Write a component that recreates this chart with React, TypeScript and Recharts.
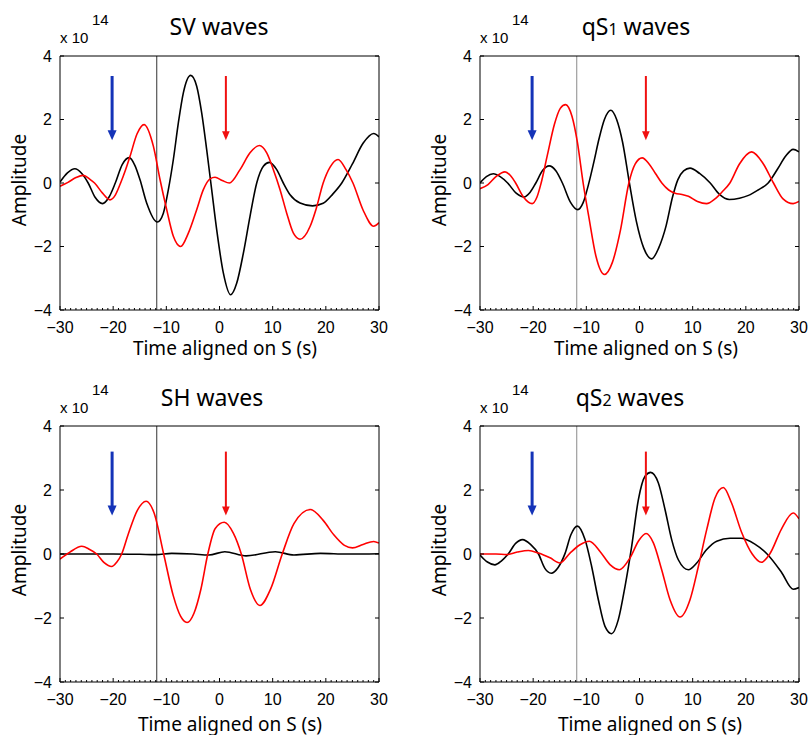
import React from 'react';
import { LineChart, Line, XAxis, YAxis, ReferenceLine, ReferenceDot } from 'recharts';

type Sample = { t: number; a: number };

// Time axis in seconds relative to the S arrival, amplitude in units of 1e14
const timeDomain: [number, number] = [-30, 30];
const timeMinorTicks = Array.from({ length: 61 }, (_, i) => i - 30);
const ampDomain: [number, number] = [-4, 4];
const ampTicks = [-4, -2, 0, 2, 4];

const sAlignTime = -11.8;
const blueArrowTime = -20.2;
const redArrowTime = 1.2;

// SV waves
const svBlack: Sample[] = [
  { t: -30, a: 0.03 }, { t: -28.6, a: 0.32 }, { t: -27.2, a: 0.45 }, { t: -25.9, a: 0.3 },
  { t: -24.7, a: 0 }, { t: -23.4, a: -0.45 }, { t: -22.0, a: -0.65 }, { t: -20.8, a: -0.45 },
  { t: -19.6, a: 0 }, { t: -18.3, a: 0.58 }, { t: -17.0, a: 0.8 }, { t: -15.9, a: 0.55 },
  { t: -14.95, a: 0.1 }, { t: -13.7, a: -0.63 }, { t: -11.7, a: -1.23 }, { t: -10.56, a: -0.95 },
  { t: -9.62, a: -0.21 }, { t: -8.68, a: 0.74 }, { t: -7.74, a: 1.89 }, { t: -6.8, a: 2.84 },
  { t: -5.42, a: 3.39 }, { t: -4.29, a: 3.05 }, { t: -3.35, a: 2.21 }, { t: -2.41, a: 1.05 },
  { t: -1.47, a: -0.21 }, { t: -0.53, a: -1.47 }, { t: 0.73, a: -2.84 }, { t: 2.1, a: -3.52 },
  { t: 3.23, a: -3.16 }, { t: 4.49, a: -2.21 }, { t: 5.74, a: -1.05 }, { t: 7.0, a: 0.0 },
  { t: 8.25, a: 0.53 }, { t: 9.38, a: 0.65 }, { t: 10.76, a: 0.42 }, { t: 12.0, a: 0.0 },
  { t: 13.27, a: -0.37 }, { t: 15.15, a: -0.63 }, { t: 17.5, a: -0.72 }, { t: 19.5, a: -0.64 },
  { t: 21.3, a: -0.35 }, { t: 23.0, a: 0 }, { t: 25.0, a: 0.6 }, { t: 27.0, a: 1.25 },
  { t: 29.0, a: 1.56 }, { t: 30, a: 1.45 },
];
const svRed: Sample[] = [
  { t: -30, a: -0.1 }, { t: -28.5, a: 0.02 }, { t: -27.0, a: 0.17 }, { t: -25.6, a: 0.24 },
  { t: -24.4, a: 0.12 }, { t: -23.5, a: 0 }, { t: -22.0, a: -0.32 }, { t: -20.6, a: -0.53 },
  { t: -19.6, a: -0.38 }, { t: -18.6, a: 0 }, { t: -17.7, a: 0.4 }, { t: -16.83, a: 0.84 },
  { t: -15.5, a: 1.55 }, { t: -14.2, a: 1.84 }, { t: -12.44, a: 1.16 }, { t: -11.19, a: 0.11 },
  { t: -9.93, a: -0.84 }, { t: -8.68, a: -1.68 }, { t: -7.3, a: -2.0 }, { t: -5.86, a: -1.58 },
  { t: -4.29, a: -0.84 }, { t: -3.04, a: -0.21 }, { t: -1.78, a: 0.13 }, { t: -0.84, a: 0.18 },
  { t: 0.5, a: 0.08 }, { t: 1.85, a: 0.0 }, { t: 3.86, a: 0.42 }, { t: 5.74, a: 0.95 },
  { t: 7.5, a: 1.18 }, { t: 8.88, a: 0.95 }, { t: 10.13, a: 0.42 }, { t: 11.39, a: -0.21 },
  { t: 12.64, a: -0.95 }, { t: 13.9, a: -1.58 }, { t: 15.15, a: -1.77 }, { t: 17.03, a: -1.37 },
  { t: 18.2, a: -0.8 }, { t: 19.5, a: 0 }, { t: 20.8, a: 0.5 }, { t: 22.3, a: 0.74 },
  { t: 23.8, a: 0.42 }, { t: 25.1, a: 0 }, { t: 27.0, a: -0.85 }, { t: 29.0, a: -1.36 },
  { t: 30, a: -1.25 },
];

// qS1 waves
const qs1Black: Sample[] = [
  { t: -30, a: 0 }, { t: -28.8, a: 0.2 }, { t: -27.5, a: 0.29 }, { t: -26.2, a: 0.2 },
  { t: -24.8, a: 0 }, { t: -23.2, a: -0.32 }, { t: -21.7, a: -0.44 }, { t: -20.6, a: -0.3 },
  { t: -19.5, a: 0 }, { t: -18.2, a: 0.4 }, { t: -17.0, a: 0.54 }, { t: -15.7, a: 0.38 },
  { t: -14.5, a: 0 }, { t: -13.0, a: -0.6 }, { t: -11.6, a: -0.84 }, { t: -10.6, a: -0.62 },
  { t: -9.6, a: -0.05 }, { t: -8.6, a: 0.65 }, { t: -7.6, a: 1.4 }, { t: -6.6, a: 2.0 },
  { t: -5.4, a: 2.29 }, { t: -4.3, a: 2.0 }, { t: -3.2, a: 1.3 }, { t: -1.9, a: 0 },
  { t: -0.6, a: -1.2 }, { t: 0.8, a: -2.05 }, { t: 2.3, a: -2.39 }, { t: 3.6, a: -2.05 },
  { t: 5.0, a: -1.35 }, { t: 6.2, a: -0.45 }, { t: 7.2, a: 0.1 }, { t: 8.3, a: 0.38 },
  { t: 9.5, a: 0.47 }, { t: 11.3, a: 0.3 }, { t: 13.3, a: 0 }, { t: 15.0, a: -0.35 },
  { t: 16.9, a: -0.52 }, { t: 18.8, a: -0.48 }, { t: 20.5, a: -0.39 }, { t: 22.3, a: -0.22 },
  { t: 24.2, a: 0 }, { t: 26.0, a: 0.45 }, { t: 27.5, a: 0.85 }, { t: 28.9, a: 1.06 },
  { t: 30, a: 0.98 },
];
const qs1Red: Sample[] = [
  { t: -30, a: -0.18 }, { t: -28.5, a: -0.05 }, { t: -27.0, a: 0.2 }, { t: -25.3, a: 0.35 },
  { t: -24.2, a: 0.22 }, { t: -23.3, a: 0 }, { t: -21.8, a: -0.45 }, { t: -20.2, a: -0.65 },
  { t: -19.3, a: -0.45 }, { t: -18.5, a: 0 }, { t: -17.3, a: 0.9 }, { t: -16.0, a: 1.85 },
  { t: -14.9, a: 2.35 }, { t: -13.9, a: 2.47 }, { t: -12.7, a: 2.1 }, { t: -11.7, a: 1.3 },
  { t: -10.6, a: 0 }, { t: -9.5, a: -1.1 }, { t: -8.2, a: -2.3 }, { t: -6.6, a: -2.88 },
  { t: -5.1, a: -2.5 }, { t: -3.6, a: -1.5 }, { t: -2.0, a: 0 }, { t: -0.8, a: 0.6 },
  { t: 0.5, a: 0.79 }, { t: 1.8, a: 0.6 }, { t: 3.0, a: 0.3 }, { t: 4.2, a: 0 },
  { t: 5.5, a: -0.22 }, { t: 6.7, a: -0.32 }, { t: 8.0, a: -0.36 }, { t: 9.2, a: -0.42 },
  { t: 10.9, a: -0.58 }, { t: 12.6, a: -0.65 }, { t: 14.2, a: -0.5 }, { t: 15.6, a: -0.27 },
  { t: 17.0, a: 0 }, { t: 18.8, a: 0.6 }, { t: 21.1, a: 0.98 }, { t: 23.3, a: 0.6 },
  { t: 25.2, a: 0 }, { t: 27.0, a: -0.5 }, { t: 28.9, a: -0.65 }, { t: 30, a: -0.58 },
];

// SH waves
const shBlack: Sample[] = [
  { t: -30, a: 0 }, { t: -20, a: 0 }, { t: -15, a: -0.01 }, { t: -12, a: -0.02 },
  { t: -9, a: 0.02 }, { t: -5, a: 0.0 }, { t: -2, a: -0.03 }, { t: 1, a: 0.07 },
  { t: 5, a: -0.06 }, { t: 10.5, a: 0.07 }, { t: 14, a: -0.03 }, { t: 19, a: 0.02 },
  { t: 24, a: 0.0 }, { t: 30, a: 0.01 },
];
const shRed: Sample[] = [
  { t: -30, a: -0.16 }, { t: -28.2, a: 0.05 }, { t: -25.9, a: 0.24 }, { t: -24.5, a: 0.15 },
  { t: -23.1, a: 0 }, { t: -21.7, a: -0.27 }, { t: -20.3, a: -0.39 }, { t: -19.3, a: -0.25 },
  { t: -18.4, a: 0 }, { t: -17.2, a: 0.6 }, { t: -15.5, a: 1.35 }, { t: -13.8, a: 1.65 },
  { t: -12.3, a: 1.28 }, { t: -10.5, a: 0 }, { t: -8.7, a: -1.3 }, { t: -7.3, a: -1.95 },
  { t: -6.1, a: -2.14 }, { t: -4.8, a: -1.85 }, { t: -3.5, a: -1.1 }, { t: -2.2, a: 0 },
  { t: -0.8, a: 0.8 }, { t: 0.9, a: 0.99 }, { t: 2.6, a: 0.65 }, { t: 4.1, a: 0 },
  { t: 5.8, a: -1.1 }, { t: 7.6, a: -1.61 }, { t: 9.6, a: -1.1 }, { t: 11.8, a: 0 },
  { t: 14.0, a: 0.95 }, { t: 17.1, a: 1.39 }, { t: 19.5, a: 1.05 }, { t: 21.5, a: 0.6 },
  { t: 23.5, a: 0.27 }, { t: 25.0, a: 0.19 }, { t: 27.0, a: 0.3 }, { t: 29.0, a: 0.39 },
  { t: 30, a: 0.34 },
];

// qS2 waves
const qs2Black: Sample[] = [
  { t: -30, a: -0.03 }, { t: -28.6, a: -0.25 }, { t: -27.2, a: -0.34 }, { t: -26.0, a: -0.22 },
  { t: -24.7, a: 0 }, { t: -23.3, a: 0.33 }, { t: -22.0, a: 0.45 }, { t: -20.5, a: 0.3 },
  { t: -19.0, a: 0 }, { t: -17.8, a: -0.45 }, { t: -16.6, a: -0.6 }, { t: -15.3, a: -0.42 },
  { t: -14.0, a: 0.02 }, { t: -12.9, a: 0.6 }, { t: -11.69, a: 0.87 }, { t: -10.25, a: 0.45 },
  { t: -9.0, a: -0.39 }, { t: -7.74, a: -1.43 }, { t: -6.49, a: -2.26 }, { t: -5.23, a: -2.49 },
  { t: -3.98, a: -2.05 }, { t: -2.72, a: -1.01 }, { t: -1.47, a: 0.24 }, { t: -0.21, a: 1.7 },
  { t: 1.04, a: 2.43 }, { t: 2.1, a: 2.55 }, { t: 3.55, a: 2.22 }, { t: 4.8, a: 1.39 },
  { t: 6.05, a: 0.45 }, { t: 7.3, a: -0.18 }, { t: 9.19, a: -0.49 }, { t: 10.76, a: -0.28 },
  { t: 12.64, a: 0.14 }, { t: 14.52, a: 0.4 }, { t: 17.03, a: 0.49 }, { t: 19.0, a: 0.49 },
  { t: 21.7, a: 0.31 }, { t: 24.0, a: 0 }, { t: 26.7, a: -0.57 }, { t: 28.9, a: -1.1 },
  { t: 30, a: -1.05 },
];
const qs2Red: Sample[] = [
  { t: -30, a: 0.0 }, { t: -27, a: 0.0 }, { t: -25, a: -0.02 }, { t: -23.0, a: 0.06 },
  { t: -20.9, a: 0.11 }, { t: -19.0, a: 0.03 }, { t: -16.83, a: -0.12 }, { t: -14.95, a: -0.28 },
  { t: -13.07, a: 0.03 }, { t: -11.19, a: 0.29 }, { t: -9.43, a: 0.4 }, { t: -7.43, a: 0.08 },
  { t: -5.55, a: -0.33 }, { t: -3.79, a: -0.49 }, { t: -1.78, a: -0.12 }, { t: -0.21, a: 0.4 },
  { t: 1.23, a: 0.64 }, { t: 2.61, a: 0.35 }, { t: 4.17, a: -0.49 }, { t: 5.74, a: -1.43 },
  { t: 7.62, a: -1.97 }, { t: 9.5, a: -1.43 }, { t: 11.07, a: -0.39 }, { t: 12.64, a: 0.76 },
  { t: 14.2, a: 1.75 }, { t: 15.77, a: 2.08 }, { t: 17.3, a: 1.6 }, { t: 19.2, a: 0.68 },
  { t: 21.2, a: 0 }, { t: 22.9, a: -0.26 }, { t: 24.5, a: 0 }, { t: 26.7, a: 0.78 },
  { t: 28.9, a: 1.28 }, { t: 30, a: 1.1 },
];

const TICK_FONT = '"Liberation Sans", Arial, sans-serif';
const LABEL_FONT = '"Noto Sans", "Open Sans", sans-serif';

const fmt = (v: number) => (v < 0 ? `\u2212${-v}` : `${v}`);

const BottomTick = (props: any) => {
  const { x, y, payload } = props;
  const v = payload.value as number;
  const major = v % 10 === 0;
  return (
    <g>
      <line x1={x} x2={x} y1={y} y2={y - (major ? 4 : 2)} stroke="#000" strokeWidth={1} />
      {major && (
        <text x={x} y={y + 23} textAnchor="middle" fontSize={16} fontFamily={TICK_FONT} fill="#000">
          {fmt(v)}
        </text>
      )}
    </g>
  );
};

const TopTick = (props: any) => {
  const { x, y, payload } = props;
  const major = (payload.value as number) % 10 === 0;
  return <line x1={x} x2={x} y1={y} y2={y + (major ? 4 : 2)} stroke="#000" strokeWidth={1} />;
};

const LeftTick = (props: any) => {
  const { x, y, payload } = props;
  return (
    <g>
      <line x1={x} x2={x + 4} y1={y} y2={y} stroke="#000" strokeWidth={1} />
      <text x={x - 8} y={y} dy="0.36em" textAnchor="end" fontSize={16} fontFamily={TICK_FONT} fill="#000">
        {fmt(payload.value)}
      </text>
    </g>
  );
};

const RightTick = (props: any) => {
  const { x, y } = props;
  return <line x1={x} x2={x - 4} y1={y} y2={y} stroke="#000" strokeWidth={1} />;
};

const arrowHead = (color: string, halfW: number, len: number) => (p: any) => (
  <polygon
    points={`${p.cx},${p.cy} ${p.cx - halfW},${p.cy - len} ${p.cx + halfW},${p.cy - len}`}
    fill={color}
  />
);

type PanelProps = {
  plotLeft: number;
  plotTop: number;
  plotH: number;
  black: Sample[];
  red: Sample[];
  markerColor: string;
  arrowTop: number;
  arrowTip: number;
};

function Panel({ plotLeft, plotTop, plotH, black, red, markerColor, arrowTop, arrowTip }: PanelProps) {
  const H = plotH + 100;
  const axisLine = { stroke: '#000', strokeWidth: 1 };
  return (
    <div style={{ position: 'absolute', left: plotLeft - 60, top: plotTop - 56 }}>
      <LineChart width={400} height={H} margin={{ top: 56, left: 20, right: 21, bottom: H - 56 - plotH - 30 }}>
        <XAxis
          xAxisId="b"
          dataKey="t"
          type="number"
          domain={timeDomain}
          ticks={timeMinorTicks}
          interval={0}
          allowDataOverflow
          height={30}
          tickSize={0}
          tickMargin={0}
          tickLine={false}
          axisLine={axisLine}
          tick={<BottomTick />}
        />
        <XAxis
          xAxisId="t"
          orientation="top"
          mirror
          type="number"
          domain={timeDomain}
          ticks={timeMinorTicks}
          interval={0}
          allowDataOverflow
          tickSize={0}
          tickMargin={0}
          tickLine={false}
          axisLine={axisLine}
          tick={<TopTick />}
        />
        <YAxis
          yAxisId="l"
          type="number"
          domain={ampDomain}
          ticks={ampTicks}
          interval={0}
          allowDataOverflow
          width={40}
          tickSize={0}
          tickMargin={0}
          tickLine={false}
          axisLine={axisLine}
          tick={<LeftTick />}
        />
        <YAxis
          yAxisId="r"
          orientation="right"
          mirror
          type="number"
          domain={ampDomain}
          ticks={ampTicks}
          interval={0}
          allowDataOverflow
          tickSize={0}
          tickMargin={0}
          tickLine={false}
          axisLine={axisLine}
          tick={<RightTick />}
        />
        <ReferenceLine xAxisId="b" yAxisId="l" x={sAlignTime} stroke={markerColor} strokeWidth={1} />
        <Line
          xAxisId="b"
          yAxisId="l"
          data={black}
          dataKey="a"
          type="monotoneX"
          stroke="#000"
          strokeWidth={1.6}
          dot={false}
          isAnimationActive={false}
        />
        <Line
          xAxisId="b"
          yAxisId="l"
          data={red}
          dataKey="a"
          type="monotoneX"
          stroke="#ff0000"
          strokeWidth={1.6}
          dot={false}
          isAnimationActive={false}
        />
        <ReferenceLine
          xAxisId="b"
          yAxisId="l"
          segment={[
            { x: blueArrowTime, y: arrowTop },
            { x: blueArrowTime, y: arrowTip + 0.25 },
          ]}
          stroke="#1433b8"
          strokeWidth={3}
        />
        <ReferenceDot
          xAxisId="b"
          yAxisId="l"
          x={blueArrowTime}
          y={arrowTip}
          shape={arrowHead('#1433b8', 4.5, 10)}
        />
        <ReferenceLine
          xAxisId="b"
          yAxisId="l"
          segment={[
            { x: redArrowTime, y: arrowTop },
            { x: redArrowTime, y: arrowTip + 0.22 },
          ]}
          stroke="#f01010"
          strokeWidth={2}
        />
        <ReferenceDot
          xAxisId="b"
          yAxisId="l"
          x={redArrowTime}
          y={arrowTip}
          shape={arrowHead('#f01010', 3.8, 9)}
        />
      </LineChart>
    </div>
  );
}

type Caption = { title: React.ReactNode; titleX: number; titleY: number; left: number; top: number; xLabelX: number; xLabelY: number };

const captions: Caption[] = [
  { title: 'SV waves', titleX: 219, titleY: 35, left: 60, top: 56, xLabelX: 225, xLabelY: 355 },
  {
    title: (
      <>
        qS<tspan fontSize={16}>1</tspan> waves
      </>
    ),
    titleX: 636,
    titleY: 35,
    left: 480,
    top: 56,
    xLabelX: 646,
    xLabelY: 355,
  },
  { title: 'SH waves', titleX: 212, titleY: 406, left: 60, top: 426, xLabelX: 230, xLabelY: 731 },
  {
    title: (
      <>
        qS<tspan fontSize={16}>2</tspan> waves
      </>
    ),
    titleX: 630,
    titleY: 406,
    left: 480,
    top: 426,
    xLabelX: 650,
    xLabelY: 731,
  },
];

export default function App() {
  return (
    <div style={{ position: 'absolute', left: 0, top: 0, width: 808, height: 735, background: '#fff', overflow: 'hidden' }}>
      <Panel plotLeft={60} plotTop={56} plotH={254} black={svBlack} red={svRed} markerColor="#333" arrowTop={3.37} arrowTip={1.35} />
      <Panel plotLeft={480} plotTop={56} plotH={254} black={qs1Black} red={qs1Red} markerColor="#8a8a8a" arrowTop={3.37} arrowTip={1.35} />
      <Panel plotLeft={60} plotTop={426} plotH={256} black={shBlack} red={shRed} markerColor="#333" arrowTop={3.2} arrowTip={1.2} />
      <Panel plotLeft={480} plotTop={426} plotH={256} black={qs2Black} red={qs2Red} markerColor="#8a8a8a" arrowTop={3.2} arrowTip={1.2} />
      <svg width={808} height={735} style={{ position: 'absolute', left: 0, top: 0, pointerEvents: 'none' }}>
        {captions.map((c, i) => (
          <g key={i}>
            <text x={c.titleX} y={c.titleY} textAnchor="middle" fontSize={23} fontFamily={LABEL_FONT} fill="#000">
              {c.title}
            </text>
            <text x={c.left} y={c.top - 13} fontSize={15} fontFamily={TICK_FONT} fill="#000">
              x 10
            </text>
            <text x={c.left + 32} y={c.top - 31} fontSize={15} fontFamily={TICK_FONT} fill="#000">
              14
            </text>
            <text
              x={c.xLabelX}
              y={c.xLabelY}
              textAnchor="middle"
              fontSize={19}
              fontFamily={LABEL_FONT}
              fill="#000"
            >
              Time aligned on S (s)
            </text>
            <text
              transform={`translate(${c.left - 34}, ${c.top + 124}) rotate(-90)`}
              textAnchor="middle"
              fontSize={19}
              fontFamily={LABEL_FONT}
              fill="#000"
            >
              Amplitude
            </text>
          </g>
        ))}
      </svg>
    </div>
  );
}
